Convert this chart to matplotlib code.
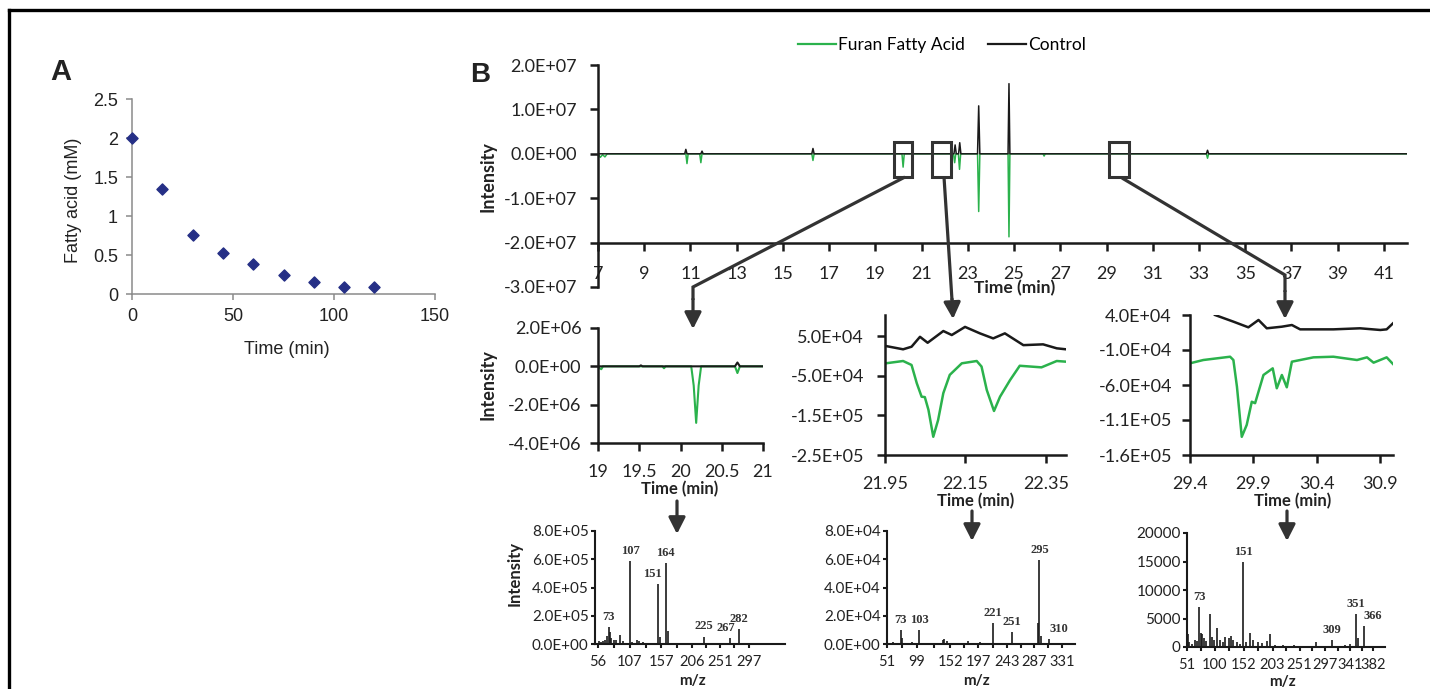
import numpy as np
import matplotlib.pyplot as plt
from matplotlib.lines import Line2D
from matplotlib.patches import Rectangle, FancyArrowPatch
from matplotlib.ticker import FuncFormatter

W, H = 1430, 689
GREEN = "#2bb24c"
BLACK = "#1a1a1a"
LINK = "#333333"
NAVY = "#252f86"

plt.rcParams["font.family"] = ["Lato", "DejaVu Sans"]

# ---- panel A: fatty acid decay ----
a_time = [0, 15, 30, 45, 60, 75, 90, 105, 120]
a_conc = [2.0, 1.34, 0.76, 0.53, 0.39, 0.25, 0.16, 0.09, 0.09]

# ---- panel B: full chromatogram (control up, furan fatty acid mirrored down) ----
ctrl_t = [7.0, 10.75, 10.8, 10.85, 11.45, 11.5, 11.55, 16.25, 16.3, 16.35, 22.4, 22.45,
          22.5, 22.6, 22.65, 22.7, 23.42, 23.47, 23.52, 24.74, 24.78, 24.82, 33.32,
          33.37, 33.42, 42.0]
ctrl_y = [0, 0, 0.1e7, 0, 0, 0.06e7, 0, 0, 0.12e7, 0, 0, 0.2e7,
          0, 0, 0.25e7, 0, 0, 1.08e7, 0, 0, 1.58e7, 0, 0,
          0.08e7, 0, 0]
furan_t = [7.0, 7.1, 7.2, 7.3, 7.4, 7.5, 10.8, 10.85, 10.9, 11.4, 11.45, 11.5, 16.25,
           16.3, 16.35, 20.15, 20.2, 20.25, 22.38, 22.43, 22.48, 22.59, 22.64, 22.69,
           23.42, 23.47, 23.52, 24.74, 24.78, 24.82, 26.25, 26.3, 26.35, 33.32, 33.37,
           33.42, 42.0]
furan_y = [0, -0.08e7, -0.02e7, -0.07e7, 0, 0, 0, -0.22e7, 0, 0, -0.2e7, 0, 0,
           -0.15e7, 0, 0, -0.3e7, 0, 0, -0.2e7, 0, 0, -0.35e7, 0,
           0, -1.3e7, 0, 0, -1.87e7, 0, 0, -0.05e7, 0, 0, -0.1e7,
           0, 0]
boxes = [(19.8, 20.6), (21.46, 22.28), (29.1, 29.98)]
box_y = (-0.52e7, 0.27e7)

# ---- zoom 1: 19-21 min ----
z1_ctrl_t = [19.0, 19.5, 19.52, 19.54, 20.66, 20.69, 20.72, 21.0]
z1_ctrl_y = [0, 0, 0.05e6, 0, 0, 0.2e6, 0, 0]
z1_fur_t = [19.0, 19.02, 19.04, 19.06, 19.78, 19.8, 19.82, 20.13, 20.16, 20.19, 20.22,
            20.25, 20.66, 20.69, 20.72, 21.0]
z1_fur_y = [0, -0.1e6, -0.15e6, 0, 0, -0.1e6, 0, 0, -1.0e6, -2.95e6, -1.0e6,
            0, 0, -0.35e6, 0, 0]

# ---- zoom 2: 21.95-22.40 min ----
z2_ctrl_t = [21.952, 21.995, 22.016, 22.037, 22.056, 22.095, 22.116, 22.149, 22.186,
             22.219, 22.248, 22.294, 22.343, 22.377, 22.40]
z2_ctrl_y = [2.48e4, 1.65e4, 2.3e4, 4.8e4, 3.3e4, 6.26e4, 5.25e4, 7.3e4, 5.67e4,
             4.4e4, 5.67e4, 2.7e4, 2.9e4, 1.9e4, 1.65e4]
z2_fur_t = [21.952, 21.995, 22.016, 22.029, 22.041, 22.049, 22.058, 22.07, 22.082,
            22.095, 22.111, 22.141, 22.178, 22.19, 22.203, 22.221, 22.236, 22.261,
            22.285, 22.339, 22.377, 22.40]
z2_fur_y = [-1.88e4, -1.3e4, -2.3e4, -6.9e4, -1.03e5, -1.04e5, -1.36e5, -2.04e5,
            -1.62e5, -9.4e4, -4.8e4, -1.88e4, -1.3e4, -2.7e4, -8.6e4, -1.39e5,
            -1.03e5, -6.1e4, -2.5e4, -2.9e4, -1.3e4, -1.47e4]

# ---- zoom 3: 29.4-31.0 min ----
z3_ctrl_t = [29.597, 29.742, 29.86, 29.94, 30.005, 30.124, 30.203, 30.268, 30.53,
             30.74, 30.9, 30.95, 31.0]
z3_ctrl_y = [4.0e4, 3.05e4, 2.24e4, 3.29e4, 2.1e4, 2.33e4, 2.57e4, 1.95e4, 1.95e4,
             2.1e4, 1.86e4, 1.95e4, 2.81e4]
z3_fur_t = [29.4, 29.505, 29.716, 29.742, 29.77, 29.808, 29.847, 29.887, 29.913,
            29.979, 30.052, 30.084, 30.124, 30.163, 30.203, 30.373, 30.53, 30.716,
            30.795, 30.847, 30.95, 31.0]
z3_fur_y = [-2.9e4, -2.43e4, -1.96e4, -2.43e4, -6.24e4, -1.34e5, -1.17e5, -8.39e4,
            -8.6e4, -4.57e4, -3.62e4, -6.47e4, -4.57e4, -6.33e4, -2.67e4, -2.05e4,
            -1.96e4, -2.43e4, -2.05e4, -2.81e4, -2.05e4, -3.0e4]

# ---- mass spectra ----
s1_mz = [57, 60, 63, 67, 70, 73, 75, 77, 81, 85, 91, 96, 107, 110, 118, 122, 127, 135,
         141, 151, 155, 164, 167, 180, 195, 225, 240, 267, 282]
s1_int = [0.2e5, 0.15e5, 0.2e5, 0.3e5, 0.6e5, 1.22e5, 0.85e5, 0.45e5, 0.3e5, 0.25e5,
          0.65e5, 0.2e5, 5.89e5, 0.15e5, 0.3e5, 0.2e5, 0.15e5, 0.1e5, 0.1e5, 4.24e5,
          0.5e5, 5.75e5, 0.95e5, 0.05e5, 0.05e5, 0.52e5, 0.05e5, 0.4e5, 1.06e5]
s1_labels = [73, 107, 151, 164, 225, 267, 282]
s1_ticks = [56, 107, 157, 206, 251, 297]

s2_mz = [55, 60, 73, 75, 85, 91, 103, 110, 128, 140, 143, 147, 165, 180, 200, 221, 235,
         251, 275, 292, 295, 297, 310]
s2_int = [0.1e4, 0.15e4, 0.99e4, 0.45e4, 0.1e4, 0.15e4, 1.0e4, 0.1e4, 0.1e4, 0.3e4,
          0.35e4, 0.2e4, 0.1e4, 0.2e4, 0.15e4, 1.46e4, 0.1e4, 0.87e4, 0.1e4, 1.5e4,
          5.94e4, 0.6e4, 0.33e4]
s2_labels = [73, 103, 221, 251, 295, 310]
s2_ticks = [51, 99, 152, 197, 243, 287, 331]

s3_mz = [53, 55, 60, 65, 69, 73, 75, 77, 81, 85, 91, 95, 99, 105, 109, 115, 119, 125,
         129, 133, 139, 145, 151, 155, 163, 169, 177, 185, 193, 199, 207, 221, 241, 281,
         309, 331, 341, 351, 355, 366]
s3_int = [2300, 900, 600, 1200, 1000, 7000, 2500, 2300, 1500, 1000, 5800, 1800, 1200,
          3300, 1300, 800, 1700, 1500, 2000, 1300, 800, 600, 14900, 900, 2500, 1200,
          900, 700, 1000, 2300, 400, 300, 300, 800, 1200, 400, 500, 5800, 1600, 3600]
s3_labels = [73, 151, 309, 351, 366]
s3_ticks = [51, 100, 152, 203, 251, 297, 341, 382]

# label nudges (points) for peak annotations
nudge = {(1, 151): -4, (1, 267): -3, (1, 282): 0, (2, 310): 7, (3, 366): 6}


def px(x, y):
    return (x / W, 1 - y / H)


def add_px_axes(fig, left, top, right, bottom):
    return fig.add_axes([left / W, 1 - bottom / H, (right - left) / W, (bottom - top) / H])


def sci(v, pos):
    return f"{v:.1E}"


def style_b(ax, size, xpad, ypad, tick_len=6, lw=1.8):
    for s in ["top", "right"]:
        ax.spines[s].set_visible(False)
    for s in ["left", "bottom"]:
        ax.spines[s].set_linewidth(lw)
        ax.spines[s].set_color(BLACK)
    ax.set_facecolor("none")
    ax.tick_params(direction="out", length=tick_len, width=lw, colors=BLACK,
                   labelsize=size, labelcolor="#222222")
    ax.tick_params(axis="x", pad=xpad)
    ax.tick_params(axis="y", pad=ypad)


fig = plt.figure(figsize=(W / 100, H / 100), dpi=100)

# outer frame (top and left only)
fig.add_artist(Line2D([px(9, 10)[0], 1.0], [px(9, 10)[1]] * 2, transform=fig.transFigure,
                      color="black", lw=2.4))
fig.add_artist(Line2D([px(9, 10)[0]] * 2, [px(9, 10)[1], 0.0], transform=fig.transFigure,
                      color="black", lw=2.4))

# ---------------- panel A ----------------
axA = add_px_axes(fig, 132, 99, 435, 294)
axA.scatter(a_time, a_conc, marker="D", s=32, color=NAVY, zorder=3, clip_on=False)
axA.set_xlim(0, 150)
axA.set_ylim(0, 2.5)
axA.set_xticks([0, 50, 100, 150])
axA.set_yticks([0, 0.5, 1, 1.5, 2, 2.5])
axA.yaxis.set_major_formatter(FuncFormatter(lambda v, p: f"{v:g}"))
for s in ["top", "right"]:
    axA.spines[s].set_visible(False)
for s in ["left", "bottom"]:
    axA.spines[s].set_color("#8a8a8a")
    axA.spines[s].set_linewidth(1.1)
axA.tick_params(direction="out", length=4, width=1.1, colors="#8a8a8a", labelcolor="#222222")
axA.tick_params(axis="x", pad=6)
axA.tick_params(axis="y", pad=6)
for lab in axA.get_xticklabels() + axA.get_yticklabels():
    lab.set_fontfamily("Liberation Sans")
    lab.set_fontsize(13)
axA.set_facecolor("none")
fig.text(*px(287, 350), "Time (min)", family="Liberation Sans", fontsize=13,
         color="#222222", ha="center", va="center")
fig.text(*px(73, 200), "Fatty acid (mM)", family="Liberation Sans", fontsize=13,
         color="#222222", ha="center", va="center", rotation=90)
fig.text(*px(61, 72), "A", family="Liberation Sans", fontsize=21, fontweight="bold",
         color="#222222", ha="center", va="center")

# ---------------- panel B main ----------------
axM = add_px_axes(fig, 598, 65, 1407, 287)
axM.plot(furan_t, furan_y, color=GREEN, lw=1.1)
axM.plot(ctrl_t, ctrl_y, color=BLACK, lw=1.1)
axM.set_xlim(7, 42)
axM.set_ylim(-3e7, 2e7)
axM.set_xticks(np.arange(7, 42, 2))
axM.set_yticks([-3e7, -2e7, -1e7, 0, 1e7, 2e7])
axM.yaxis.set_major_formatter(FuncFormatter(sci))
style_b(axM, 13, 11, 9)
axM.spines["bottom"].set_position(("data", -2e7))
for x0, x1 in boxes:
    axM.add_patch(Rectangle((x0, box_y[0]), x1 - x0, box_y[1] - box_y[0], fill=False,
                            ec=LINK, lw=2.2, zorder=5, clip_on=False))
fig.text(*px(488, 177), "Intensity", fontsize=13, fontweight="bold", color="#222222",
         ha="center", va="center", rotation=90)
fig.text(*px(1015, 288), "Time (min)", fontsize=12.5, fontweight="bold", color="#222222",
         ha="center", va="center")
fig.text(*px(480, 75), "B", family="Liberation Sans", fontsize=20, fontweight="bold",
         color="#222222", ha="center", va="center")
handles = [Line2D([], [], color=GREEN, lw=1.6), Line2D([], [], color=BLACK, lw=1.6)]
fig.legend(handles, ["Furan Fatty Acid", "Control"], loc="center", bbox_to_anchor=px(942, 45),
           ncol=2, frameon=False, fontsize=12.5, handlelength=2.2, handletextpad=0.15,
           columnspacing=1.3)

# ---------------- zoomed chromatograms ----------------
ax1 = add_px_axes(fig, 598, 328, 763, 443)
ax1.plot(z1_fur_t, z1_fur_y, color=GREEN, lw=1.5)
ax1.plot(z1_ctrl_t, z1_ctrl_y, color=BLACK, lw=1.5)
ax1.set_xlim(19, 21)
ax1.set_ylim(-4e6, 2e6)
ax1.set_xticks([19, 19.5, 20, 20.5, 21])
ax1.set_xticklabels(["19", "19.5", "20", "20.5", "21"])
ax1.set_yticks([-4e6, -2e6, 0, 2e6])
ax1.yaxis.set_major_formatter(FuncFormatter(sci))
style_b(ax1, 13, 9, 6)
fig.text(*px(488, 385), "Intensity", fontsize=13, fontweight="bold", color="#222222",
         ha="center", va="center", rotation=90)
fig.text(*px(680, 489), "Time (min)", fontsize=12, fontweight="bold", color="#222222",
         ha="center", va="center")

ax2 = add_px_axes(fig, 885, 315, 1066, 455)
ax2.plot(z2_ctrl_t, z2_ctrl_y, color=BLACK, lw=1.8)
ax2.plot(z2_fur_t, z2_fur_y, color=GREEN, lw=1.8)
ax2.set_xlim(21.95, 22.40)
ax2.set_ylim(-2.5e5, 1.03e5)
ax2.set_xticks([21.95, 22.15, 22.35])
ax2.set_xticklabels(["21.95", "22.15", "22.35"])
ax2.set_yticks([-2.5e5, -1.5e5, -5e4, 5e4])
ax2.yaxis.set_major_formatter(FuncFormatter(sci))
style_b(ax2, 13, 9, 9)
fig.text(*px(976, 501), "Time (min)", fontsize=12, fontweight="bold", color="#222222",
         ha="center", va="center")

ax3 = add_px_axes(fig, 1190, 315, 1393, 455)
ax3.plot(z3_ctrl_t, z3_ctrl_y, color=BLACK, lw=1.8)
ax3.plot(z3_fur_t, z3_fur_y, color=GREEN, lw=1.8)
ax3.set_xlim(29.4, 31.0)
ax3.set_ylim(-1.6e5, 4e4)
ax3.set_xticks([29.4, 29.9, 30.4, 30.9])
ax3.set_xticklabels(["29.4", "29.9", "30.4", "30.9"])
ax3.set_yticks([-1.6e5, -1.1e5, -6e4, -1e4, 4e4])
ax3.yaxis.set_major_formatter(FuncFormatter(sci))
style_b(ax3, 13, 9, 7)
fig.text(*px(1293, 501), "Time (min)", fontsize=12, fontweight="bold", color="#222222",
         ha="center", va="center")

# ---------------- mass spectra ----------------
spectra = [
    (1, (595, 531, 785, 644), s1_mz, s1_int, s1_labels, s1_ticks, (51, 355), 8e5,
     [0, 2e5, 4e5, 6e5, 8e5], True, (692, 681)),
    (2, (887, 531, 1075, 644), s2_mz, s2_int, s2_labels, s2_ticks, (51, 352), 8e4,
     [0, 2e4, 4e4, 6e4, 8e4], True, (977, 681)),
    (3, (1187, 533, 1385, 647), s3_mz, s3_int, s3_labels, s3_ticks, (51, 403), 20000,
     [0, 5000, 10000, 15000, 20000], False, (1282, 682)),
]
for idx, box, mz, inten, labels, ticks, xlim, ymax, yt, use_sci, mzpos in spectra:
    ax = add_px_axes(fig, *box)
    ax.vlines(mz, 0, inten, color=BLACK, lw=1.2)
    ax.set_xlim(*xlim)
    ax.set_ylim(0, ymax)
    ax.set_xticks(ticks)
    ax.set_xticklabels([str(t) for t in ticks])
    mids = (np.array(ticks[:-1]) + np.array(ticks[1:])) / 2
    ax.set_xticks(mids, minor=True)
    ax.set_yticks(yt)
    if use_sci:
        ax.yaxis.set_major_formatter(FuncFormatter(sci))
    else:
        ax.yaxis.set_major_formatter(FuncFormatter(lambda v, p: f"{v:.0f}"))
    style_b(ax, 11, 5, 1.5, tick_len=3, lw=1.5)
    ax.tick_params(axis="x", which="minor", direction="out", length=3, width=1.5, colors=BLACK)
    ax.tick_params(axis="x", labelsize=10.5)
    for m in labels:
        ax.annotate(str(m), (m, inten[mz.index(m)]), xytext=(nudge.get((idx, m), 0), 3),
                    textcoords="offset points", ha="center", va="bottom",
                    family="Liberation Serif", fontweight="bold", fontsize=9, color="#333333")
    fig.text(*px(*mzpos), "m/z", fontsize=11, fontweight="bold", color="#222222",
             ha="center", va="center")
fig.text(*px(515, 573), "Intensity", fontsize=12, fontweight="bold", color="#222222",
         ha="center", va="center", rotation=90)

# ---------------- connectors and arrows ----------------
def polyline(pts):
    xs, ys = zip(*[px(x, y) for x, y in pts])
    fig.add_artist(Line2D(xs, ys, transform=fig.transFigure, color=LINK, lw=2.3,
                          solid_capstyle="butt", solid_joinstyle="miter"))


def arrow(x, y0, y1, x0=None):
    fig.add_artist(FancyArrowPatch(px(x if x0 is None else x0, y0), px(x, y1),
                                   transform=fig.transFigure,
                                   arrowstyle="-|>,head_length=0.55,head_width=0.28",
                                   mutation_scale=18, lw=2.3, color=LINK,
                                   shrinkA=0, shrinkB=0))


polyline([(905, 177), (693, 287), (693, 300)])
arrow(693, 299, 329)
polyline([(944, 177), (952, 300)])
arrow(953, 299, 319, x0=952)
polyline([(1122, 178), (1285, 275), (1285, 292)])
arrow(1285, 291, 319)
arrow(677, 501, 534)
arrow(972, 511, 541)
arrow(1287, 511, 541)

fig.savefig("out.png", dpi=100)
